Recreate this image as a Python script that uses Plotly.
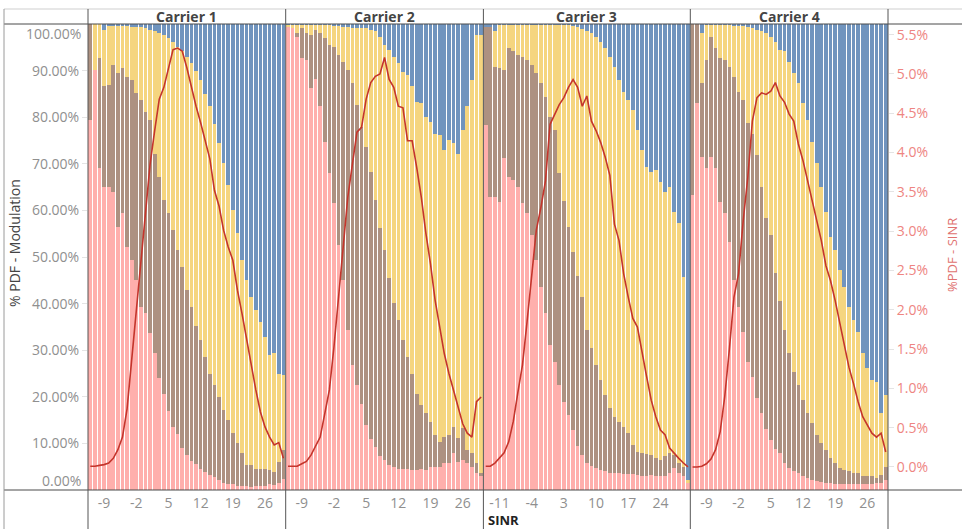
import plotly.graph_objects as go

# ---------------- data ----------------
sinr_c1 = [-12, -11, -10, -9, -8, -7, -6, -5, -4, -3, -2, -1, 0, 1, 2, 3, 4, 5, 6, 7, 8,
           9, 10, 11, 12, 13, 14, 15, 16, 17, 18, 19, 20, 21, 22, 23, 24, 25, 26, 27, 28, 29, 30]
sinr_c3 = [-14, -13, -12, -11, -10, -9, -8, -7, -6, -5, -4, -3, -2, -1, 0, 1, 2, 3, 4, 5, 6, 7, 8,
           9, 10, 11, 12, 13, 14, 15, 16, 17, 18, 19, 20, 21, 22, 23, 24, 25, 26, 27, 28, 29, 30]

ticks_c1 = [-9, -2, 5, 12, 19, 26]
ticks_c3 = [-11, -4, 3, 10, 17, 24]

# cumulative % PDF - Modulation (top of each stacked layer)
c1_qpsk = [79.4, 90.1, 69.0, 65.1, 65.1, 64.0, 56.5, 59.4, 52.2, 49.4, 45.1, 39.3, 37.9, 33.6, 29.3,
           24.0, 20.5, 17.0, 13.5, 12.0, 9.0, 7.5, 6.3, 5.5, 4.6, 3.8, 3.3, 2.8, 2.2, 1.6, 1.3, 1.2,
           0.9, 0.8, 0.8, 0.7, 0.8, 0.9, 0.9, 1.2, 1.0, 1.6, 2.3]
c1_16qam = [100, 90.1, 92.6, 86.6, 86.9, 91.2, 89.4, 90.5, 88.7, 88.0, 85.1, 83.7, 81.2, 79.4, 72.2,
            67.2, 62.2, 59.4, 55.8, 51.5, 47.9, 42.9, 39.3, 35.1, 32.2, 28.6, 25.0, 22.5, 20.0, 17.2,
            15.0, 12.2, 10.0, 7.9, 5.4, 5.4, 4.6, 4.6, 4.6, 4.3, 3.9, 6.1, 8.5]
c1_64qam = [100, 100, 100, 98.7, 99.6, 99.6, 99.6, 99.5, 99.5, 99.4, 99.4, 99.4, 99.1, 98.7, 98.4,
            98.1, 97.6, 96.9, 96.2, 95.1, 94.1, 93.0, 91.6, 90.0, 88.0, 85.0, 82.3, 78.5, 74.5, 70.2,
            65.5, 60.1, 55.1, 49.4, 45.1, 41.5, 38.6, 36.1, 32.9, 29.0, 29.3, 25.0, 24.7]
c1_sinr = [0.01, 0.01, 0.02, 0.03, 0.05, 0.11, 0.22, 0.38, 0.74, 1.36, 1.95, 2.54, 3.18, 3.85, 4.28,
           4.68, 4.83, 5.08, 5.31, 5.33, 5.29, 5.08, 4.83, 4.59, 4.38, 4.15, 3.92, 3.52, 3.32, 3.01,
           2.80, 2.63, 2.25, 1.95, 1.61, 1.27, 0.98, 0.70, 0.51, 0.38, 0.28, 0.31, 0.11]

c2_qpsk = [99.4, 99.1, 97.3, 92.6, 92.3, 86.2, 88.3, 82.3, 74.7, 68.0, 61.5, 52.6, 45.1, 34.3, 26.8,
           22.5, 18.5, 14.0, 11.0, 9.2, 7.2, 6.4, 5.4, 5.0, 4.6, 4.6, 4.6, 4.3, 4.3, 4.6, 4.3, 5.0,
           5.0, 5.0, 5.7, 5.7, 7.9, 6.1, 6.4, 5.7, 5.0, 3.6, 2.9]
c2_16qam = [99.4, 99.1, 98.0, 99.1, 98.0, 97.6, 98.7, 98.0, 96.9, 95.5, 95.1, 93.3, 91.9, 90.1, 87.3,
            82.6, 78.0, 73.7, 68.3, 62.2, 56.2, 51.5, 45.4, 40.1, 36.5, 32.2, 28.6, 25.0, 20.7, 18.2,
            16.5, 14.7, 11.8, 10.4, 11.4, 11.8, 13.6, 11.1, 13.2, 8.6, 7.9, 5.7, 3.6]
c2_64qam = [99.8, 99.8, 99.8, 99.8, 99.8, 99.8, 99.8, 99.8, 99.8, 99.8, 99.6, 99.6, 99.4, 99.3, 99.1,
            99.1, 99.1, 99.1, 98.7, 98.4, 97.3, 95.5, 94.4, 93.0, 91.6, 89.8, 89.1, 86.6, 83.3, 83.0,
            80.1, 79.0, 76.5, 76.2, 73.0, 75.1, 74.4, 72.2, 77.3, 82.3, 88.0, 97.6, 97.6]
c2_sinr = [0.01, 0.01, 0.01, 0.04, 0.07, 0.15, 0.26, 0.38, 0.68, 0.98, 1.53, 2.16, 2.84, 3.43, 3.85,
           4.26, 4.32, 4.68, 4.89, 4.97, 5.00, 5.21, 4.93, 4.83, 4.59, 4.57, 4.15, 4.15, 3.81, 3.43,
           2.97, 2.58, 2.12, 1.78, 1.44, 1.19, 0.98, 0.77, 0.55, 0.43, 0.38, 0.83, 0.89]

c3_qpsk = [78.3, 62.9, 62.9, 61.9, 71.2, 67.2, 66.5, 65.1, 61.5, 59.4, 54.7, 49.4, 43.6, 37.9, 31.1,
           27.5, 22.5, 18.9, 16.1, 12.9, 9.5, 7.6, 5.9, 5.1, 4.7, 4.3, 4.0, 3.7, 3.6, 3.6, 3.4, 3.4,
           3.4, 3.2, 3.0, 3.0, 3.2, 3.0, 3.0, 2.9, 3.7, 4.7, 3.7, 2.9, 1.5]
c3_16qam = [99.4, 99.4, 90.8, 90.5, 90.1, 94.8, 94.1, 93.3, 93.0, 92.3, 91.2, 89.4, 87.3, 84.4, 80.1,
            77.3, 68.0, 62.0, 56.5, 51.0, 46.0, 41.5, 34.3, 30.4, 26.8, 23.6, 20.4, 17.5, 15.7, 14.7,
            13.6, 12.2, 9.7, 8.2, 8.0, 7.7, 7.5, 6.8, 6.4, 7.2, 7.9, 7.5, 5.7, 5.0, 1.5]
c3_64qam = [99.4, 99.4, 98.4, 99.8, 99.8, 99.8, 99.8, 99.8, 99.8, 99.8, 99.8, 99.8, 99.8, 99.8, 99.8,
            99.8, 99.8, 99.8, 99.8, 99.6, 99.3, 98.9, 98.4, 98.0, 97.3, 96.2, 94.8, 93.0, 90.8, 88.0,
            85.5, 83.7, 81.5, 77.3, 73.0, 69.4, 68.3, 68.7, 66.2, 64.0, 65.1, 59.7, 57.2, 45.8, 2.1]
c3_sinr = [0.01, 0.01, 0.05, 0.11, 0.18, 0.32, 0.58, 0.95, 1.30, 1.85, 2.46, 3.01, 3.30, 3.64, 4.36,
           4.49, 4.61, 4.70, 4.83, 4.93, 4.83, 4.59, 4.72, 4.40, 4.28, 4.13, 3.94, 3.71, 3.09, 2.88,
           2.46, 2.16, 1.89, 1.78, 1.44, 1.15, 0.85, 0.64, 0.47, 0.41, 0.24, 0.17, 0.11, 0.05, 0.0]

c4_qpsk = [63.3, 83.0, 71.5, 69.0, 71.5, 69.0, 61.9, 59.4, 53.3, 45.1, 39.3, 33.9, 27.5, 24.2, 19.7,
           16.5, 13.0, 10.7, 8.9, 7.9, 5.7, 4.7, 4.0, 3.6, 2.9, 2.5, 2.1, 2.0, 1.8, 1.6, 1.4, 1.3,
           1.3, 1.3, 1.3, 1.3, 1.3, 1.3, 1.3, 1.3, 1.4, 1.6, 2.1]
c4_16qam = [100, 100, 87.3, 92.3, 97.3, 94.8, 92.6, 92.3, 90.8, 88.7, 85.5, 83.7, 78.7, 76.5, 71.9,
            65.1, 58.3, 54.7, 46.5, 40.5, 34.3, 29.3, 25.4, 22.5, 19.3, 16.5, 14.3, 11.8, 10.0, 8.6,
            6.8, 5.7, 4.7, 4.3, 4.0, 3.6, 3.6, 2.9, 2.9, 2.9, 2.5, 3.2, 5.0]
c4_64qam = [100, 100, 98.1, 99.8, 99.8, 99.8, 99.8, 99.8, 99.8, 99.6, 99.6, 99.6, 99.4, 99.1, 98.7,
            98.4, 98.0, 97.3, 96.2, 94.4, 94.1, 91.9, 89.4, 87.3, 83.0, 79.4, 74.7, 70.1, 65.1, 59.7,
            54.4, 51.5, 47.2, 43.6, 39.3, 36.5, 34.0, 29.3, 26.1, 23.6, 23.2, 16.5, 20.4]
c4_sinr = [0.0, 0.0, 0.01, 0.04, 0.10, 0.22, 0.45, 0.90, 1.50, 2.16, 2.46, 3.13, 3.68, 4.40, 4.70,
           4.76, 4.74, 4.78, 4.89, 4.72, 4.64, 4.49, 4.40, 4.11, 3.90, 3.64, 3.39, 3.13, 2.88, 2.56,
           2.37, 2.12, 1.82, 1.53, 1.27, 1.06, 0.83, 0.64, 0.53, 0.43, 0.38, 0.43, 0.19]

carriers = ["Carrier 1", "Carrier 2", "Carrier 3", "Carrier 4"]
left_ticks = [10, 20, 30, 40, 50, 60, 70, 80, 90]
right_ticks = [0.0, 0.5, 1.0, 1.5, 2.0, 2.5, 3.0, 3.5, 4.0, 4.5, 5.0, 5.5]

# ---------------- styling ----------------
PINK, BROWN, YELLOW, BLUE = "#FFAFAC", "#AD9181", "#F5D57F", "#7094BE"
LINE = "#C4352C"
FONT = "Open Sans"
GRAY = "#8f8f8f"
SALMON = "#EE8582"

W, H = 962, 529
L, R, T, B = 88, 888, 24, 490


def px(x):
    return (x - L) / (R - L)


def py(y):
    return (B - y) / (B - T)


panels = [
    (sinr_c1, ticks_c1, c1_qpsk, c1_16qam, c1_64qam, c1_sinr),
    (sinr_c1, ticks_c1, c2_qpsk, c2_16qam, c2_64qam, c2_sinr),
    (sinr_c3, ticks_c3, c3_qpsk, c3_16qam, c3_64qam, c3_sinr),
    (sinr_c1, ticks_c1, c4_qpsk, c4_16qam, c4_64qam, c4_sinr),
]

fig = go.Figure()
total = sum(len(p[0]) for p in panels)
start = 0
layout_axes = {}
boundaries = []
for k, (x, tv, q, m16, m64, line) in enumerate(panels):
    xa = "x" if k == 0 else f"x{k + 1}"
    n = len(x)
    d0, d1 = start / total, (start + n) / total
    start += n
    boundaries.append((d0, d1))
    # stacked shares from the cumulative readings
    s_q = [max(a, 0) for a in q]
    s_16 = [max(b - a, 0) for a, b in zip(q, m16)]
    s_64 = [max(c - max(a, b), 0) for a, b, c in zip(q, m16, m64)]
    s_256 = [max(100 - max(a, b, c), 0) for a, b, c in zip(q, m16, m64)]
    for name, vals, col in [("QPSK", s_q, PINK), ("16QAM", s_16, BROWN),
                            ("64QAM", s_64, YELLOW), ("256QAM", s_256, BLUE)]:
        fig.add_trace(go.Bar(x=x, y=vals, name=name, marker=dict(color=col, line=dict(width=0)),
                             xaxis=xa, yaxis="y", showlegend=False))
    fig.add_trace(go.Scatter(x=x, y=line, mode="lines", name="%PDF - SINR",
                             line=dict(color=LINE, width=1.6), xaxis=xa, yaxis="y2",
                             showlegend=False))
    layout_axes["xaxis" if k == 0 else f"xaxis{k + 1}"] = dict(
        domain=[d0, d1], range=[x[0] - 0.5, x[-1] + 0.5], anchor="y",
        tickmode="array", tickvals=tv, ticktext=[str(t) for t in tv],
        showgrid=False, zeroline=False, showline=False, ticks="",
        ticklabelstandoff=3,
        tickfont=dict(family=FONT, size=14, color=GRAY), fixedrange=True)

fig.update_layout(
    width=W, height=H, autosize=False,
    margin=dict(l=L, r=W - R, t=T, b=H - B, pad=0),
    paper_bgcolor="white", plot_bgcolor="white",
    barmode="stack", bargap=0.2,
    showlegend=False,
    font=dict(family=FONT),
    yaxis=dict(range=[0, 100], anchor="x", tickmode="array", tickvals=left_ticks,
               ticktext=[f"{v:.2f}%" for v in left_ticks], showgrid=False, zeroline=False,
               showline=False, ticks="outside", ticklen=5, tickcolor="#e4e4e4",
               tickfont=dict(family=FONT, size=14, color=GRAY), fixedrange=True),
    yaxis2=dict(range=[-0.293, 5.636], overlaying="y", side="right", anchor="x4",
                tickmode="array", tickvals=right_ticks,
                ticktext=[f"{v:.1f}%" for v in right_ticks], showgrid=False, zeroline=False,
                showline=False, ticks="outside", ticklen=5, tickcolor="#e4e4e4",
                tickfont=dict(family=FONT, size=14, color=SALMON), fixedrange=True),
    **layout_axes,
)

# edge labels of the left axis (shifted inward as in the reference)
annotations = [
    dict(text="100.00%", x=px(83), y=py(34), xanchor="right", yanchor="middle"),
    dict(text="0.00%", x=px(83), y=py(480), xanchor="right", yanchor="middle"),
]
for a in annotations:
    a.update(xref="paper", yref="paper", showarrow=False,
             font=dict(family=FONT, size=14, color=GRAY))

# headers
for name, (d0, d1) in zip(carriers, boundaries):
    annotations.append(dict(text=f"<b>{name}</b>", x=(d0 + d1) / 2, y=py(16.5), xref="paper",
                            yref="paper", showarrow=False, xanchor="center", yanchor="middle",
                            font=dict(family=FONT, size=14, color="#444444")))
# axis titles
annotations.append(dict(text="% PDF - Modulation", x=px(15), y=py(243), xref="paper", yref="paper",
                        showarrow=False, textangle=-90, xanchor="center", yanchor="middle",
                        font=dict(family=FONT, size=14, color="#444444")))
annotations.append(dict(text="%PDF - SINR", x=px(952), y=py(255), xref="paper", yref="paper",
                        showarrow=False, textangle=-90, xanchor="center", yanchor="middle",
                        font=dict(family=FONT, size=13, color="#E0716F")))
annotations.append(dict(text="<b>SINR</b>", x=px(486), y=py(520), xref="paper", yref="paper",
                        showarrow=False, xanchor="left", yanchor="middle",
                        font=dict(family=FONT, size=13, color="#222222")))
fig.update_layout(annotations=annotations)

# frame lines (Tableau-like table borders)
shapes = []


def hline(y, x0, x1, color, w=1):
    shapes.append(dict(type="line", xref="paper", yref="paper", x0=px(x0), x1=px(x1),
                       y0=py(y), y1=py(y), line=dict(color=color, width=w)))


def vline(x, y0, y1, color, w=1):
    shapes.append(dict(type="line", xref="paper", yref="paper", x0=px(x), x1=px(x),
                       y0=py(y0), y1=py(y1), line=dict(color=color, width=w)))


hline(9, 4, 962, "#cfcfcf")
hline(24, 4, 962, "#4a4a4a")
hline(490, 4, 962, "#4a4a4a")
vline(4, 9, 529, "#9a9a9a")
vline(L, 9, 529, "#555555")
for d0, d1 in boundaries[1:]:
    vline(L + d0 * (R - L), 9, 529, "#555555")
vline(R, 9, 529, "#555555")
fig.update_layout(shapes=shapes)

fig.write_html(
    "out.html",
    config={"displayModeBar": False},
    post_script="document.body.style.margin='0';document.body.style.overflow='hidden';",
)
